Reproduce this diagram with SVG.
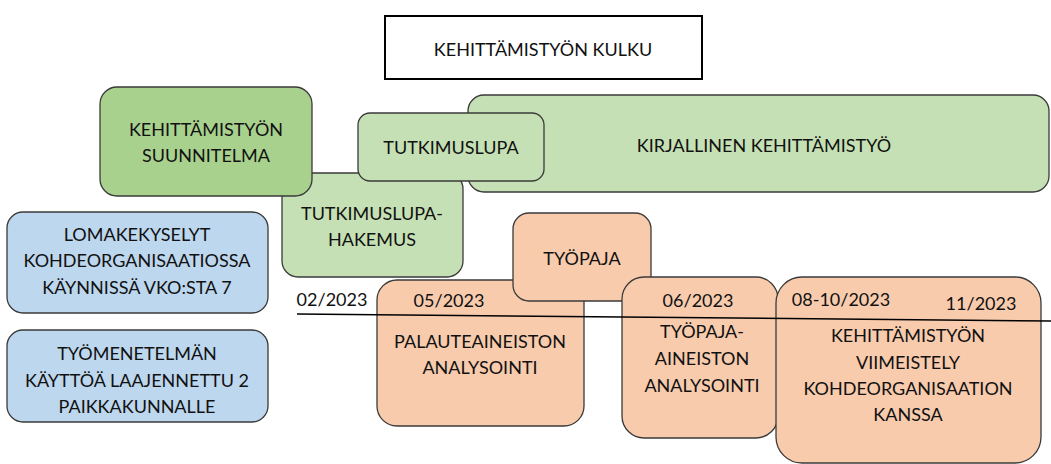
<svg xmlns="http://www.w3.org/2000/svg" width="1051" height="464" viewBox="0 0 1051 464">
  <style>
    text { font-family: Lato, "Open Sans", "Liberation Sans", sans-serif; font-size: 18px; fill: #111111; text-anchor: middle; }
    .box { stroke: #3a3a3a; stroke-width: 1.3; }
    .plan { fill: #A9D18E; }
    .green { fill: #C5E0B4; }
    .blue { fill: #BDD7EE; }
    .orange { fill: #F8CBAD; }
  </style>
  <rect width="1051" height="464" fill="#ffffff"/>

  <!-- title -->
  <g id="title">
    <rect x="385" y="16" width="317" height="63" fill="#ffffff" stroke="#000000" stroke-width="2"/>
    <text x="543" y="56">KEHITTÄMISTYÖN KULKU</text>
  </g>

  <!-- writing phase, behind the permit boxes -->
  <g id="kirjallinen">
    <rect class="box green" x="468" y="95" width="581" height="97" rx="16"/>
    <text x="764" y="152">KIRJALLINEN KEHITTÄMISTYÖ</text>
  </g>

  <g id="hakemus">
    <rect class="box green" x="282" y="173" width="181" height="104" rx="16"/>
    <text x="372" y="220">TUTKIMUSLUPA-</text>
    <text x="372" y="246">HAKEMUS</text>
  </g>

  <g id="suunnitelma">
    <rect class="box plan" x="100" y="87" width="212" height="109" rx="17"/>
    <text x="206" y="136">KEHITTÄMISTYÖN</text>
    <text x="206" y="162">SUUNNITELMA</text>
  </g>

  <g id="tutkimuslupa">
    <rect class="box green" x="358" y="113" width="186" height="68" rx="12"/>
    <text x="451" y="154">TUTKIMUSLUPA</text>
  </g>

  <g id="lomakekyselyt">
    <rect class="box blue" x="7" y="212" width="261" height="101" rx="16"/>
    <text x="137" y="241">LOMAKEKYSELYT</text>
    <text x="137" y="267">KOHDEORGANISAATIOSSA</text>
    <text x="137" y="294">KÄYNNISSÄ VKO:STA 7</text>
  </g>

  <g id="tyomenetelma">
    <rect class="box blue" x="7" y="330" width="261" height="92" rx="16"/>
    <text x="137" y="360">TYÖMENETELMÄN</text>
    <text x="137" y="387">KÄYTTÖÄ LAAJENNETTU 2</text>
    <text x="137" y="413">PAIKKAKUNNALLE</text>
  </g>

  <g id="palaute">
    <rect class="box orange" x="377" y="280" width="207" height="146" rx="20"/>
    <text x="449" y="307">05/2023</text>
    <text x="480" y="348">PALAUTEAINEISTON</text>
    <text x="480" y="374">ANALYSOINTI</text>
  </g>

  <g id="tyopaja">
    <rect class="box orange" x="513" y="213" width="138" height="88" rx="16"/>
    <text x="582" y="265">TYÖPAJA</text>
  </g>

  <g id="tyopaja-aineisto">
    <rect class="box orange" x="622" y="277" width="156" height="161" rx="22"/>
    <text x="698" y="307">06/2023</text>
    <text x="702" y="338">TYÖPAJA-</text>
    <text x="702" y="365">AINEISTON</text>
    <text x="702" y="392">ANALYSOINTI</text>
  </g>

  <g id="viimeistely">
    <rect class="box orange" x="776" y="277" width="265" height="186" rx="26"/>
    <text x="841" y="306">08-10/2023</text>
    <text x="981" y="310">11/2023</text>
    <text x="908" y="342">KEHITTÄMISTYÖN</text>
    <text x="908" y="369">VIIMEISTELY</text>
    <text x="908" y="395">KOHDEORGANISAATION</text>
    <text x="908" y="421">KANSSA</text>
  </g>

  <!-- timeline -->
  <g id="connectors">
    <line x1="297" y1="314" x2="1051" y2="321" stroke="#000000" stroke-width="1.5"/>
  </g>
  <g id="start-date">
    <text x="332" y="306">02/2023</text>
  </g>
</svg>
